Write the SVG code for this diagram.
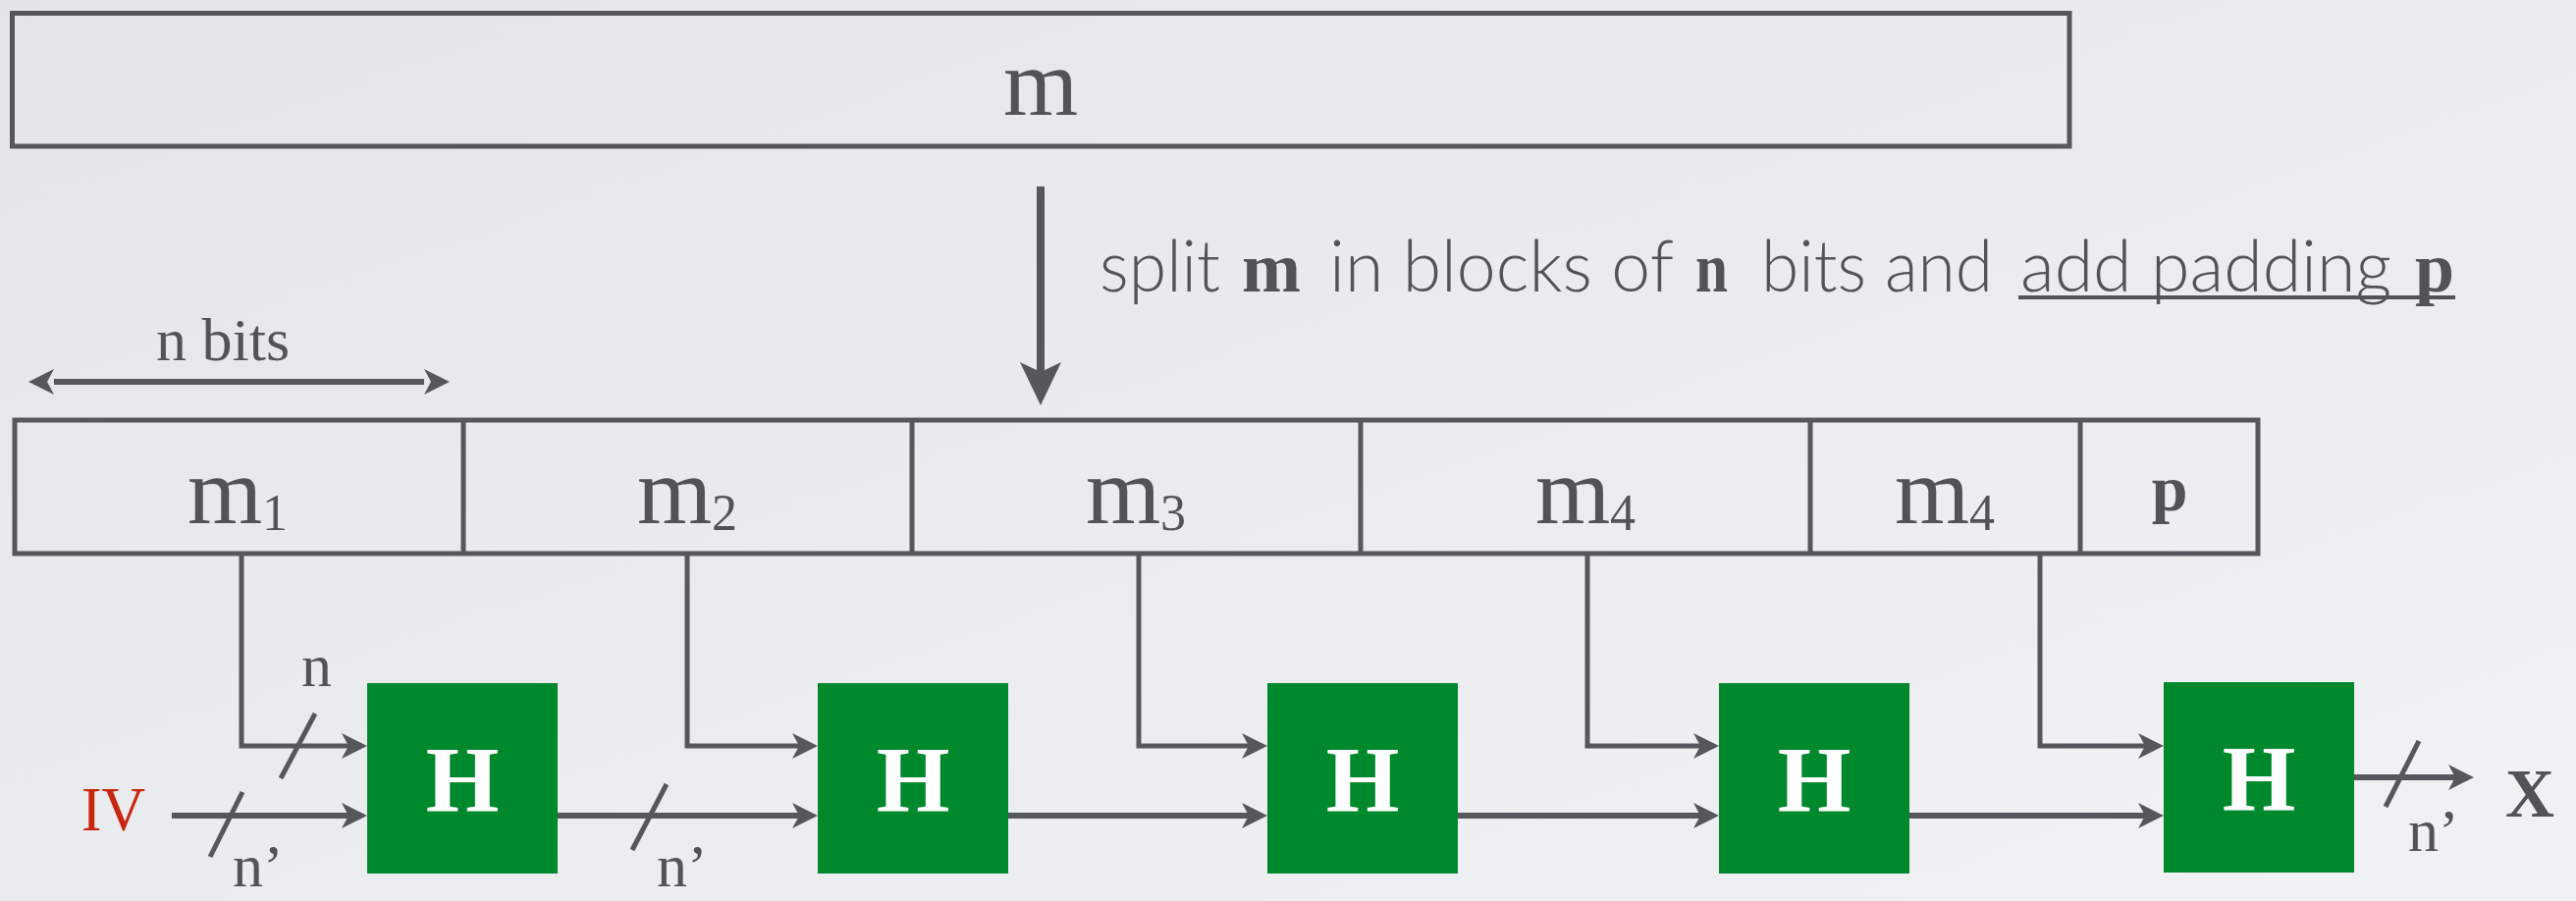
<svg xmlns="http://www.w3.org/2000/svg" width="2624" height="918" viewBox="0 0 2624 918">
<defs>
<linearGradient id="bg" x1="0" y1="0" x2="1" y2="1">
<stop offset="0" stop-color="#e3e5e8"/>
<stop offset="1" stop-color="#f1f2f4"/>
</linearGradient>
<marker id="ah" viewBox="0 0 26 26" refX="7" refY="13" markerWidth="26" markerHeight="26" markerUnits="userSpaceOnUse" orient="auto">
<path d="M0,0 L26,13 L0,26 L7,13 Z" fill="#54575b"/>
</marker>
<marker id="ahs" viewBox="0 0 26 26" refX="0" refY="13" markerWidth="26" markerHeight="26" markerUnits="userSpaceOnUse" orient="auto-start-reverse">
<path d="M0,0 L26,13 L0,26 L7,13 Z" fill="#54575b"/>
</marker>
<marker id="dn" viewBox="0 0 44 42" refX="10" refY="21" markerWidth="44" markerHeight="42" markerUnits="userSpaceOnUse" orient="auto">
<path d="M0,0 L44,21 L0,42 L10,21 Z" fill="#54575b"/>
</marker>
</defs>
<style>
.box{fill:none;stroke:#54575b;stroke-width:5}
.ln{fill:none;stroke:#54575b;stroke-width:6}
.vl{fill:none;stroke:#54575b;stroke-width:5}
.sl{stroke:#54575b;stroke-width:5}
.hb{fill:#00882d}
.serif{font-family:"Liberation Serif","Times New Roman",serif;fill:#505358}
.ht{font-family:"Liberation Serif","Times New Roman",serif;font-weight:bold;fill:#ffffff;font-size:96px}
.sans{font-family:Lato,"Open Sans","Liberation Sans",sans-serif;font-weight:300;fill:#505358;font-size:72px}
.bs{font-family:"Liberation Serif","Times New Roman",serif;font-weight:bold;fill:#505358;font-size:72px}
</style>
<rect width="2624" height="918" fill="url(#bg)"/>

<g id="message">
<rect class="box" x="12.5" y="13.5" width="2095.5" height="135.5"/>
<text class="serif" x="1060" y="117" font-size="98" text-anchor="middle">m</text>
</g>

<g id="split-label">
<text class="sans" x="1120" y="297" textLength="123" lengthAdjust="spacingAndGlyphs">split</text>
<text class="bs" x="1265" y="297" textLength="60" lengthAdjust="spacingAndGlyphs">m</text>
<text class="sans" x="1354" y="297" textLength="351" lengthAdjust="spacingAndGlyphs">in blocks of</text>
<text class="bs" x="1727" y="297" textLength="33" lengthAdjust="spacingAndGlyphs">n</text>
<text class="sans" x="1794" y="297" textLength="236" lengthAdjust="spacingAndGlyphs">bits and</text>
<text class="sans" x="2058" y="297" textLength="378" lengthAdjust="spacingAndGlyphs">add padding</text>
<text class="bs" x="2460" y="297" textLength="40" lengthAdjust="spacingAndGlyphs">p</text>
<line x1="2056" y1="303" x2="2501" y2="303" stroke="#505358" stroke-width="4"/>
</g>

<g id="nbits">
<text class="serif" x="159" y="367" font-size="62">n bits</text>
</g>

<g id="blocks">
<rect class="box" x="15" y="428" width="2285" height="136"/>
<line class="box" x1="472" y1="428" x2="472" y2="564"/>
<line class="box" x1="929" y1="428" x2="929" y2="564"/>
<line class="box" x1="1386" y1="428" x2="1386" y2="564"/>
<line class="box" x1="1844" y1="428" x2="1844" y2="564"/>
<line class="box" x1="2119" y1="428" x2="2119" y2="564"/>
</g>
<g id="m1"><text class="serif" x="242" y="533" font-size="98" text-anchor="middle">m<tspan font-size="52" dy="7">1</tspan></text></g>
<g id="m2"><text class="serif" x="700" y="533" font-size="98" text-anchor="middle">m<tspan font-size="52" dy="7">2</tspan></text></g>
<g id="m3"><text class="serif" x="1157" y="533" font-size="98" text-anchor="middle">m<tspan font-size="52" dy="7">3</tspan></text></g>
<g id="m4"><text class="serif" x="1615" y="533" font-size="98" text-anchor="middle">m<tspan font-size="52" dy="7">4</tspan></text></g>
<g id="m4b"><text class="serif" x="1981" y="533" font-size="98" text-anchor="middle">m<tspan font-size="52" dy="7">4</tspan></text></g>
<g id="p"><text class="serif" x="2210" y="520" font-size="66" font-weight="bold" text-anchor="middle">p</text></g>

<g id="H1"><rect class="hb" x="374" y="696" width="194" height="194"/><text class="ht" x="471" y="827" text-anchor="middle">H</text></g>
<g id="H2"><rect class="hb" x="833" y="696" width="194" height="194"/><text class="ht" x="930" y="827" text-anchor="middle">H</text></g>
<g id="H3"><rect class="hb" x="1291" y="696" width="194" height="194"/><text class="ht" x="1388" y="827" text-anchor="middle">H</text></g>
<g id="H4"><rect class="hb" x="1751" y="696" width="194" height="194"/><text class="ht" x="1848" y="827" text-anchor="middle">H</text></g>
<g id="H5"><rect class="hb" x="2204" y="695" width="194" height="194"/><text class="ht" x="2301" y="826" text-anchor="middle">H</text></g>

<g id="IV"><text x="83" y="846" font-family="Liberation Serif, Times New Roman, serif" font-size="64" fill="#c8260e" textLength="65" lengthAdjust="spacingAndGlyphs">IV</text></g>
<g id="X"><text class="serif" x="2552" y="832" font-size="70" font-weight="bold" textLength="50" lengthAdjust="spacingAndGlyphs">X</text></g>

<g id="connectors">
<line x1="1060" y1="190" x2="1060" y2="379" stroke="#54575b" stroke-width="8" marker-end="url(#dn)"/>
<line x1="55" y1="389" x2="432" y2="389" stroke="#54575b" stroke-width="6" marker-start="url(#ahs)" marker-end="url(#ahs)"/>
<polyline class="vl" points="246,564 246,760 355,760" marker-end="url(#ah)"/>
<polyline class="vl" points="700,564 700,760 814,760" marker-end="url(#ah)"/>
<polyline class="vl" points="1160,564 1160,760 1272,760" marker-end="url(#ah)"/>
<polyline class="vl" points="1617,564 1617,760 1732,760" marker-end="url(#ah)"/>
<polyline class="vl" points="2078,564 2078,760 2185,760" marker-end="url(#ah)"/>
<line class="ln" x1="175" y1="831" x2="355" y2="831" marker-end="url(#ah)"/>
<line class="ln" x1="568" y1="831" x2="814" y2="831" marker-end="url(#ah)"/>
<line class="ln" x1="1027" y1="831" x2="1272" y2="831" marker-end="url(#ah)"/>
<line class="ln" x1="1485" y1="831" x2="1732" y2="831" marker-end="url(#ah)"/>
<line class="ln" x1="1945" y1="831" x2="2185" y2="831" marker-end="url(#ah)"/>
<line class="ln" x1="2398" y1="792" x2="2501" y2="792" marker-end="url(#ah)"/>
<line class="sl" x1="321" y1="727" x2="286" y2="793"/>
<line class="sl" x1="247" y1="807" x2="214" y2="873"/>
<line class="sl" x1="679" y1="799" x2="644" y2="866"/>
<line class="sl" x1="2464" y1="755" x2="2430" y2="822"/>
<text class="serif" x="307" y="699" font-size="62">n</text>
<text class="serif" x="237" y="903" font-size="62">n’</text>
<text class="serif" x="669" y="903" font-size="62">n’</text>
<text class="serif" x="2453" y="867" font-size="62">n’</text>
</g>
</svg>
